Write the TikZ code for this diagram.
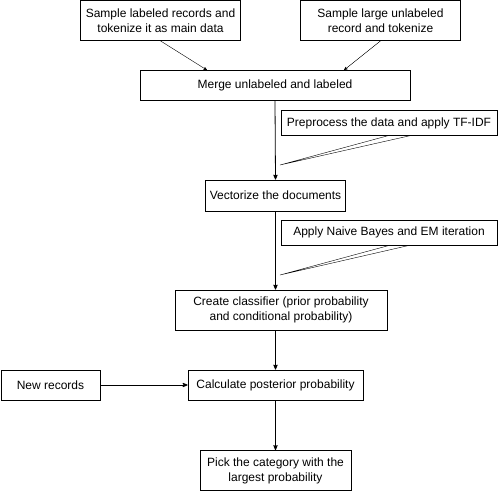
\documentclass[tikz,border=0pt]{standalone}
\usepackage{fontspec}
\setmainfont{Liberation Sans}
\usepackage{tikz}
\usetikzlibrary{arrows}

\tikzset{
  stage/.style={draw,thick,align=center,inner sep=2pt,font=\fontsize{12}{15}\selectfont},
  note/.style={draw,thin,align=center,inner sep=2pt,font=\fontsize{12}{15}\selectfont},
  flow/.style={->,>=stealth',thick}
}

\begin{document}
\begin{tikzpicture}[x=1pt,y=-1pt]
\useasboundingbox (0,0) rectangle (501,492);
% input boxes
\node[stage,minimum width=160pt,minimum height=40pt] (lab) at (160.5,20.5) {Sample labeled records and\\tokenize it as main data};
\node[stage,minimum width=160pt,minimum height=40pt] (unlab) at (380.5,20.5) {Sample large unlabeled\\record and tokenize};
\node[stage,minimum width=270pt,minimum height=30pt] (merge) at (275,85.5) {Merge unlabeled and labeled};
\node[stage,minimum width=140pt,minimum height=31pt] (vec) at (275.5,195.5) {Vectorize the documents};
\node[stage,minimum width=212pt,minimum height=40pt] (cls) at (281,310) {Create classifier (prior probability\\and conditional probability)};
\node[stage,minimum width=175pt,minimum height=30pt] (calc) at (275.5,385) {Calculate posterior probability};
\node[stage,minimum width=99pt,minimum height=30pt] (new) at (50.5,385) {New records};
\node[stage,minimum width=151pt,minimum height=40pt] (pick) at (275.5,470.5) {Pick the category with the\\largest probability};
% notes
\node[note,minimum width=216pt,minimum height=25pt] (prep) at (389,123) {Preprocess the data and apply TF-IDF};
\node[note,minimum width=216pt,minimum height=25pt] (nb) at (389,232.5) {Apply Naive Bayes and EM iteration};
\coordinate (preptip) at (280,165);
\coordinate (nbtip) at (280,275);

\draw[->,>=stealth',thin] (lab.south) -- ([xshift=-68pt]merge.north);
\draw[->,>=stealth',thin] (unlab.south) -- ([xshift=69pt]merge.north);
\draw[flow] (merge.south) -- (vec.north);
\draw[flow] (vec.south) -- (vec.south |- cls.north);
\draw[flow] (cls.south -| calc.north) -- (calc.north);
\draw[flow] (calc.south) -- (pick.north);
\draw[flow] (new.east) -- (calc.west);

\draw[thin] ([xshift=-1pt]prep.south) -- (preptip) -- ([xshift=21pt]prep.south);
\draw[thin] ([xshift=1pt]nb.south) -- (nbtip) -- ([xshift=21pt]nb.south);
\end{tikzpicture}
\end{document}
